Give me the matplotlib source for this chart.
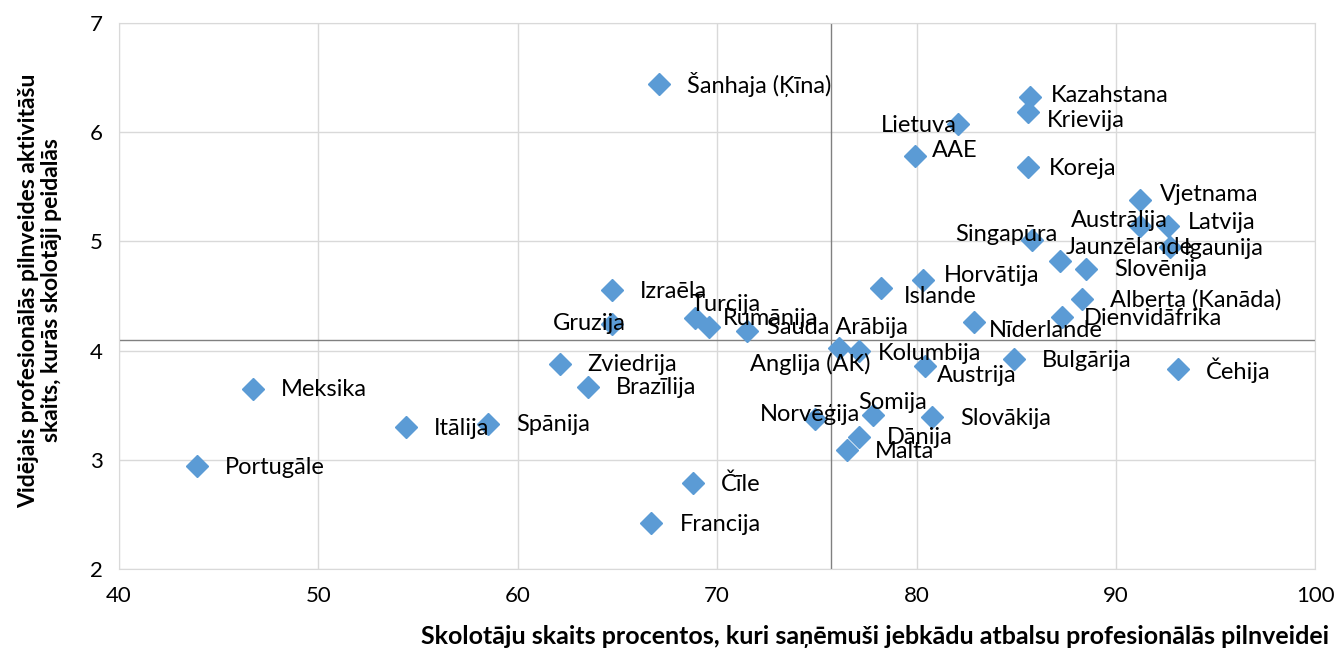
import matplotlib
matplotlib.use("Agg")
import matplotlib.pyplot as plt

plt.rcParams['font.family'] = ['Lato', 'DejaVu Sans']

# data
countries = ["Portugāle", "Meksika", "Itālija", "Spānija", "Šanhaja (Ķīna)", "Izraēla",
             "Gruzija", "Turcija", "Rumānija", "Sauda Arābija", "Lietuva", "AAE",
             "Kazahstana", "Krievija", "Koreja", "Vjetnama", "Austrālija", "Latvija",
             "Igaunija", "Singapūra", "Jaunzēlande", "Slovēnija", "Horvātija", "Islande",
             "Alberta (Kanāda)", "Dienvidāfrika", "Nīderlande", "Kolumbija", "Anglija (AK)",
             "Austrija", "Bulgārija", "Čehija", "Somija", "Norvēģija", "Slovākija",
             "Dānija", "Malta", "Čīle", "Francija", "Zviedrija", "Brazīlija"]
support_pct = [43.9, 46.7, 54.4, 58.5, 67.1, 64.7,
               64.7, 68.9, 69.6, 71.5, 82.1, 79.9,
               85.7, 85.6, 85.6, 91.2, 91.2, 92.6,
               92.7, 85.8, 87.2, 88.5, 80.3, 78.2,
               88.3, 87.3, 82.9, 77.1, 76.1,
               80.4, 84.9, 93.1, 77.8, 74.9, 80.8,
               77.1, 76.5, 68.8, 66.7, 62.1, 63.5]
activities = [2.94, 3.65, 3.30, 3.33, 6.44, 4.55,
              4.24, 4.30, 4.22, 4.18, 6.07, 5.78,
              6.32, 6.18, 5.68, 5.38, 5.14, 5.14,
              4.95, 5.01, 4.82, 4.75, 4.65, 4.57,
              4.47, 4.31, 4.26, 4.00, 4.02,
              3.86, 3.92, 3.83, 3.41, 3.37, 3.39,
              3.21, 3.09, 2.79, 2.42, 3.88, 3.67]

avg_x = 75.7
avg_y = 4.1

# label offsets in pixels (right, down); everything else uses the default
label_offsets = {
    "Gruzija": (-59, -1), "Turcija": (-5, -13), "Rumānija": (14, -8),
    "Sauda Arābija": (20, -3), "Lietuva": (-78, 1), "AAE": (17, -6),
    "Kazahstana": (21, -2), "Krievija": (19, 8), "Koreja": (21, 2),
    "Vjetnama": (20, -5), "Austrālija": (-69, -5), "Latvija": (20, -3),
    "Igaunija": (14, 2), "Singapūra": (-77, -6), "Jaunzēlande": (6, -13),
    "Horvātija": (21, -4), "Islande": (23, 8), "Dienvidāfrika": (22, 2),
    "Nīderlande": (15, 8), "Kolumbija": (19, 3), "Anglija (AK)": (-89, 16),
    "Austrija": (12, 10), "Somija": (-14, -13), "Norvēģija": (-55, -5),
}
default_offset = (28, 1)

fig = plt.figure(figsize=(13.38, 6.49), dpi=100)
ax = fig.add_axes([0.089, 0.123, 0.894, 0.842])

ax.set_xlim(40, 100)
ax.set_ylim(2, 7)
ax.set_xticks(range(40, 101, 10))
ax.set_yticks(range(2, 8))
ax.grid(True, color="#d9d9d9", linewidth=1)
ax.set_axisbelow(True)
for sp in ax.spines.values():
    sp.set_color("#d9d9d9")
ax.tick_params(length=0, labelsize=16, pad=12, colors="black")

ax.axvline(avg_x, color="#808080", linewidth=1, zorder=1)
ax.axhline(avg_y, color="#808080", linewidth=1, zorder=1)

ax.plot(support_pct, activities, linestyle="none", marker="D", markersize=10.8,
        color="#5b9bd5", zorder=3)

for name, xv, yv in zip(countries, support_pct, activities):
    dx, dy = label_offsets.get(name, default_offset)
    ax.annotate(name, (xv, yv), xytext=(dx, -dy), textcoords="offset pixels",
                ha="left", va="center", fontsize=17, zorder=4)

ax.set_ylabel("Vidējais profesionālās pilnveides aktivitāšu\nskaits, kurās skolotāji peidalās",
              fontsize=16.5, fontweight="bold", linespacing=1.1)
ax.yaxis.label.set_verticalalignment("center")
ax.yaxis.set_label_coords(-0.066, 0.51)

ax.set_xlabel("Skolotāju skaits procentos, kuri saņēmuši jebkādu atbalsu profesionālās pilnveidei",
              fontsize=18, fontweight="bold")
ax.xaxis.label.set_horizontalalignment("right")
ax.xaxis.label.set_verticalalignment("center")
ax.xaxis.set_label_coords(1.012, -0.124)

fig.savefig("out.png", dpi=100)
